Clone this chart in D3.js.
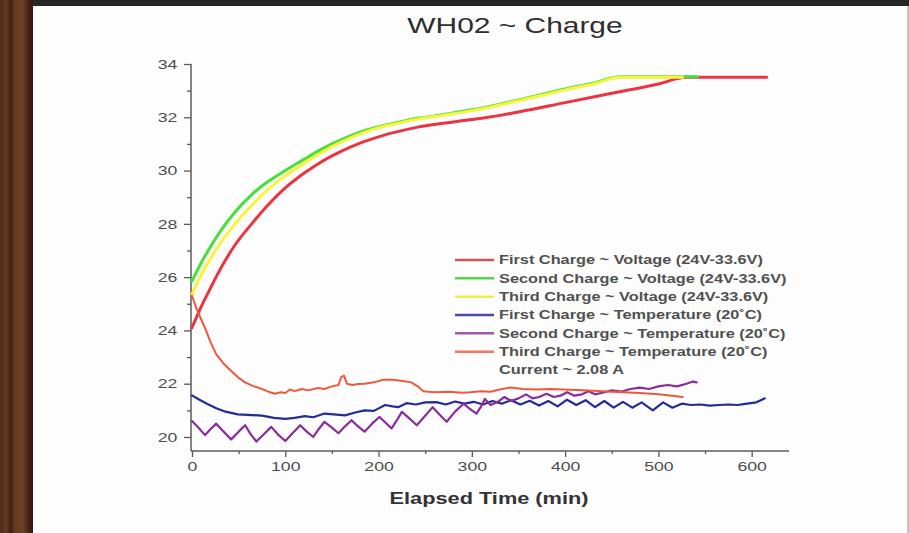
<!DOCTYPE html>
<html>
<head>
<meta charset="utf-8">
<script src="https://cdnjs.cloudflare.com/ajax/libs/d3/7.8.5/d3.min.js"></script>
<style>
  body { margin: 0; background: #fff; }
  svg text { font-family: "Liberation Sans", Arial, sans-serif; }
</style>
</head>
<body>
<svg width="909" height="533"></svg>
<script>
// ---- data (time in min, values in V / degC) ----
var firstVoltT  = [0, 10, 20, 28, 45, 64, 80, 100, 120, 135, 150, 171, 190, 207, 225, 242, 260, 280, 300, 314, 350, 400, 450, 500, 530, 560, 590, 616];
var firstVoltV  = [24.1, 24.9, 25.6, 26.15, 27.15, 28.0, 28.65, 29.35, 29.9, 30.25, 30.55, 30.9, 31.15, 31.34, 31.5, 31.63, 31.73, 31.82, 31.92, 31.98, 32.2, 32.55, 32.9, 33.25, 33.5, 33.5, 33.5, 33.5];

var secondVoltT = [0, 10, 20, 28, 45, 64, 80, 100, 120, 135, 150, 171, 190, 207, 225, 242, 260, 278, 300, 314, 350, 400, 430, 459, 500, 542];
var secondVoltV = [25.85, 26.55, 27.15, 27.6, 28.4, 29.1, 29.55, 30.0, 30.42, 30.73, 31.0, 31.32, 31.55, 31.7, 31.84, 31.96, 32.05, 32.15, 32.28, 32.37, 32.65, 33.06, 33.28, 33.52, 33.52, 33.52];

var thirdVoltT  = [0, 10, 20, 28, 45, 64, 80, 100, 120, 135, 150, 171, 190, 207, 225, 242, 260, 278, 300, 314, 350, 400, 430, 459, 500, 526];
var thirdVoltV  = [25.35, 26.1, 26.7, 27.15, 27.95, 28.7, 29.25, 29.8, 30.27, 30.6, 30.9, 31.25, 31.5, 31.67, 31.81, 31.93, 32.03, 32.12, 32.25, 32.34, 32.62, 33.03, 33.25, 33.5, 33.5, 33.5];

var firstTempT  = [0, 8, 16, 26, 36, 49, 60, 75, 88, 100, 110, 121, 130, 142, 152, 164, 175, 185, 195, 207, 215, 221, 230, 240, 250, 262, 272, 282, 292, 302, 312, 322, 332, 342, 352, 362, 372, 382, 392, 402, 412, 422, 432, 442, 452, 462, 472, 482, 494, 505, 515, 525, 535, 545, 555, 565, 575, 585, 595, 605, 614];
var firstTempV  = [21.56, 21.4, 21.25, 21.08, 20.95, 20.85, 20.83, 20.8, 20.72, 20.68, 20.72, 20.78, 20.74, 20.88, 20.85, 20.81, 20.92, 21.0, 20.98, 21.2, 21.15, 21.12, 21.27, 21.22, 21.3, 21.31, 21.22, 21.33, 21.25, 21.32, 21.22, 21.35, 21.25, 21.38, 21.22, 21.36, 21.18, 21.35, 21.15, 21.4, 21.2, 21.38, 21.12, 21.35, 21.1, 21.32, 21.1, 21.3, 21.0, 21.3, 21.1, 21.25, 21.2, 21.22, 21.18, 21.2, 21.22, 21.2, 21.25, 21.3, 21.45];

var secondTempT = [0, 7, 14, 20, 26, 34, 42, 50, 57, 63, 69, 77, 85, 92, 100, 108, 116, 123, 130, 136, 142, 150, 157, 164, 171, 178, 185, 193, 201, 207, 214, 220, 225, 233, 241, 250, 258, 265, 273, 282, 291, 298, 305, 310, 314, 320, 327, 335, 342, 350, 358, 365, 372, 380, 388, 395, 402, 410, 418, 425, 432, 440, 450, 460, 470, 480, 490, 500, 510, 520, 530, 537, 541];
var secondTempV = [20.6, 20.35, 20.07, 20.3, 20.5, 20.2, 19.91, 20.2, 20.44, 20.1, 19.83, 20.1, 20.38, 20.1, 19.85, 20.15, 20.44, 20.2, 20.0, 20.3, 20.57, 20.35, 20.14, 20.4, 20.63, 20.4, 20.2, 20.5, 20.75, 20.55, 20.32, 20.65, 20.94, 20.7, 20.44, 20.8, 21.12, 20.85, 20.57, 20.95, 21.25, 21.05, 20.88, 21.15, 21.43, 21.2, 21.3, 21.5, 21.35, 21.45, 21.6, 21.45, 21.5, 21.62, 21.5, 21.55, 21.68, 21.55, 21.6, 21.72, 21.6, 21.66, 21.75, 21.7, 21.8, 21.85, 21.8, 21.9, 21.95, 21.9, 22.0, 22.08, 22.05];

var thirdTempT  = [0, 5, 10, 14, 20, 26, 34, 42, 50, 57, 65, 75, 82, 89, 95, 100, 105, 110, 118, 125, 135, 142, 150, 157, 160, 163, 166, 172, 178, 185, 195, 205, 215, 226, 235, 242, 248, 260, 275, 290, 298, 310, 320, 330, 341, 355, 370, 385, 405, 420, 440, 462, 480, 500, 515, 526];
var thirdTempV  = [25.3, 24.8, 24.4, 24.09, 23.55, 23.1, 22.75, 22.48, 22.22, 22.05, 21.92, 21.8, 21.7, 21.62, 21.68, 21.65, 21.78, 21.72, 21.8, 21.75, 21.84, 21.8, 21.9, 21.95, 22.25, 22.3, 22.0, 21.95, 21.99, 22.0, 22.05, 22.15, 22.15, 22.1, 22.05, 21.9, 21.72, 21.68, 21.7, 21.66, 21.68, 21.72, 21.7, 21.78, 21.86, 21.8, 21.78, 21.8, 21.77, 21.75, 21.72, 21.68, 21.65, 21.6, 21.55, 21.5];

var legendLabels = [
  "First Charge ~ Voltage (24V-33.6V)",
  "Second Charge ~ Voltage (24V-33.6V)",
  "Third Charge ~ Voltage (24V-33.6V)",
  "First Charge ~ Temperature (20\u02daC)",
  "Second Charge ~ Temperature (20\u02daC)",
  "Third Charge ~ Temperature (20\u02daC)"
];
var noteLabel = "Current ~ 2.08 A";
var xTicks = [0, 100, 200, 300, 400, 500, 600];
var xMinor = [50, 150, 250, 350, 450, 550];
var yTicks = [20, 22, 24, 26, 28, 30, 32, 34];
var yMinor = [21, 23, 25, 27, 29, 31, 33];

// ---- page ----
var svg = d3.select("svg");
var k = 1.36; // the photo is stretched sideways, so is the text

// frame of the photo: wood on the left, dark strip on top
var defs = svg.append("defs");
var wood = defs.append("linearGradient").attr("id", "wood").attr("x1", 0).attr("x2", 1).attr("y1", 0).attr("y2", 0);
[[0, "#4e2c18"], [0.2, "#64391f"], [0.33, "#3c2010"], [0.45, "#653b21"], [0.7, "#6e4125"], [0.85, "#472714"], [1, "#2e180c"]]
  .forEach(function(s) { wood.append("stop").attr("offset", s[0]).attr("stop-color", s[1]); });
svg.append("rect").attr("width", 909).attr("height", 533).attr("fill", "#fdfdfd");
svg.append("rect").attr("x", 0).attr("y", 0).attr("width", 33).attr("height", 533).attr("fill", "url(#wood)");
svg.append("rect").attr("x", 33).attr("y", 0).attr("width", 876).attr("height", 6).attr("fill", "#262626");
svg.append("rect").attr("x", 907).attr("y", 6).attr("width", 2).attr("height", 527).attr("fill", "#c4c4c4");

var x = d3.scaleLinear().domain([0, 640]).range([192, 789]);
var y = d3.scaleLinear().domain([19.5, 34]).range([450.3, 64]);

function stretchText(sel) {
  sel.attr("transform", "scale(" + k + ",1)");
}

// axes
var axisColor = "#5a5a5a";
var gy = svg.append("g").attr("transform", "translate(191,0)");
gy.call(d3.axisLeft(y).tickValues(yTicks).tickSize(7).tickPadding(3).tickFormat(d3.format("d")));
gy.append("g").call(d3.axisLeft(y).tickValues(yMinor).tickSize(4).tickFormat(""));
var gx = svg.append("g").attr("transform", "translate(0,451)");
gx.call(d3.axisBottom(x).tickValues(xTicks).tickSize(6).tickPadding(5).tickFormat(d3.format("d")));
gx.append("g").call(d3.axisBottom(x).tickValues(xMinor).tickSize(3).tickFormat(""));

svg.selectAll(".domain").attr("stroke", axisColor).attr("stroke-width", 1.5);
svg.selectAll(".tick line").attr("stroke", axisColor).attr("stroke-width", 1.3);
svg.selectAll(".tick text")
  .attr("fill", "#4d4d4d").attr("font-size", 13)
  .style("font-family", "'Liberation Sans', Arial, sans-serif")
  .call(stretchText);
// keep the y axis line from running past 34
gy.select(".domain").attr("d", "M0," + y(34) + "V451");
gx.select(".domain").attr("d", "M191,0H" + x(640));
gy.selectAll("g g .domain").remove();
gx.selectAll("g g .domain").remove();

// series
var series = [
  { t: firstVoltT,  v: firstVoltV,  color: "#ee3340", w: 3,   legend: "#d95058" },
  { t: secondVoltT, v: secondVoltV, color: "#45e03a", w: 3,   legend: "#4ed84a" },
  { t: thirdVoltT,  v: thirdVoltV,  color: "#f6f53c", w: 3,   legend: "#eeee4a" },
  { t: firstTempT,  v: firstTempV,  color: "#222c96", w: 2.2, legend: "#4a4aa8" },
  { t: secondTempT, v: secondTempV, color: "#8a2c9c", w: 2.2, legend: "#a05aad" },
  { t: thirdTempT,  v: thirdTempV,  color: "#ec5a3c", w: 2,   legend: "#f0785e" }
];

var line = d3.line()
  .x(function(d) { return x(d[0]); })
  .y(function(d) { return y(d[1]); });

// draw order: red, green, yellow voltage; then temperatures
series.forEach(function(s, i) {
  var pts = s.t.map(function(t, j) { return [t, s.v[j]]; });
  line.curve(i < 3 ? d3.curveMonotoneX : d3.curveLinear);
  svg.append("path")
    .attr("d", line(pts))
    .attr("fill", "none")
    .attr("stroke", s.color)
    .attr("stroke-width", s.w)
    .attr("stroke-linejoin", "round")
    .attr("stroke-linecap", "round");
});

// legend
var legY = d3.scaleLinear().domain([0, 6]).range([260, 370]);
var leg = svg.append("g");
legendLabels.forEach(function(label, i) {
  leg.append("line")
    .attr("x1", 455).attr("x2", 494)
    .attr("y1", legY(i)).attr("y2", legY(i))
    .attr("stroke", series[i].legend).attr("stroke-width", 2.5);
  leg.append("text")
    .attr("transform", "translate(499," + (legY(i) + 4.2) + ") scale(" + k + ",1)")
    .attr("font-size", 12).attr("font-weight", "bold").attr("fill", "#505050")
    .text(label);
});
leg.append("text")
  .attr("transform", "translate(499," + (legY(6) + 4.2) + ") scale(" + k + ",1)")
  .attr("font-size", 12).attr("font-weight", "bold").attr("fill", "#505050")
  .text(noteLabel);

// title and axis label
svg.append("text")
  .attr("transform", "translate(515,33) scale(" + k + ",1)")
  .attr("text-anchor", "middle").attr("font-size", 22).attr("fill", "#2e2e2e")
  .text("WH02 ~ Charge");
svg.append("text")
  .attr("transform", "translate(489,504) scale(" + k + ",1)")
  .attr("text-anchor", "middle").attr("font-size", 16).attr("font-weight", "bold").attr("fill", "#333")
  .text("Elapsed Time (min)");
</script>
</body>
</html>
